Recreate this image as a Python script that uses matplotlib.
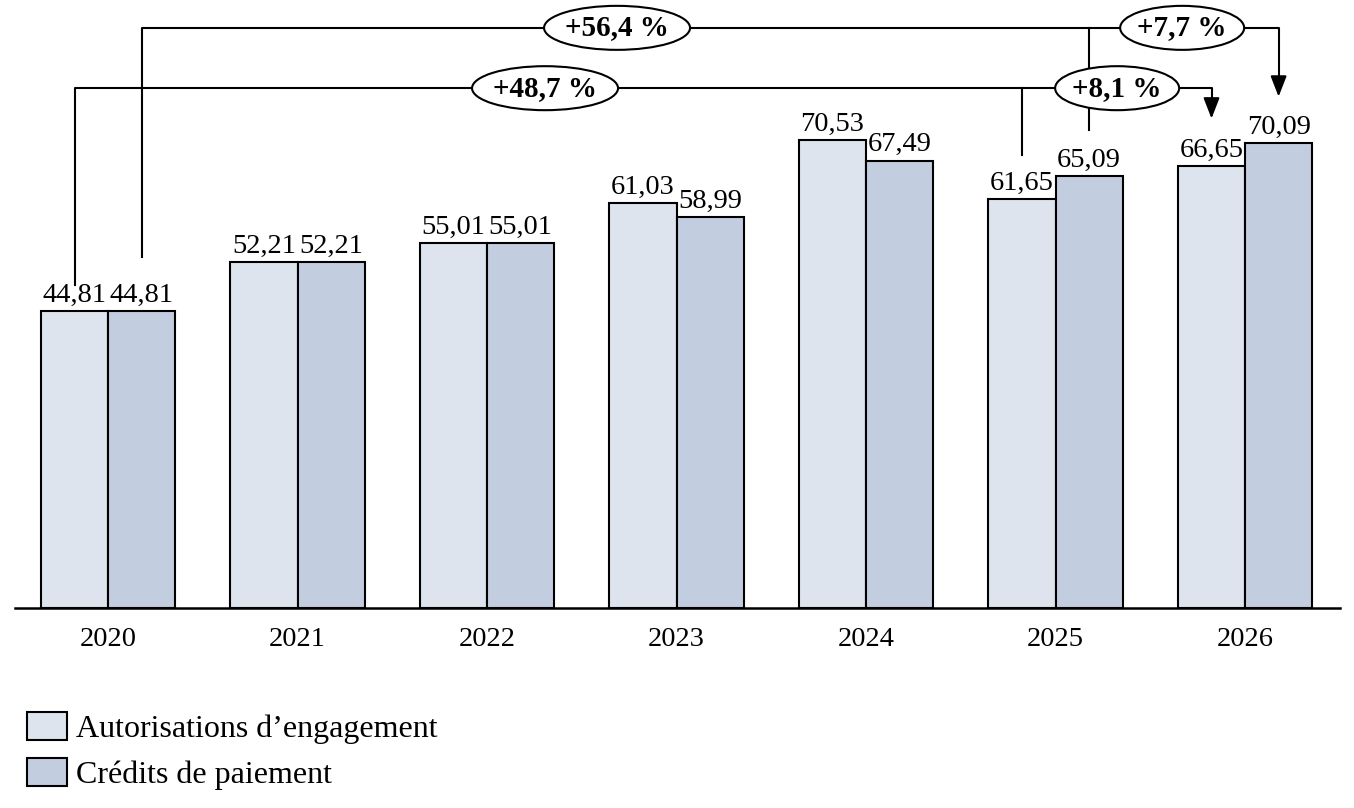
import matplotlib.pyplot as plt
import numpy as np
from matplotlib.patches import Ellipse, Patch

plt.rcParams['font.family'] = ['Liberation Serif', 'DejaVu Serif']

# Données
annees = ['2020', '2021', '2022', '2023', '2024', '2025', '2026']
ae = [44.81, 52.21, 55.01, 61.03, 70.53, 61.65, 66.65]
cp = [44.81, 52.21, 55.01, 58.99, 67.49, 65.09, 70.09]
labels_series = ['Autorisations d\u2019engagement', 'Crédits de paiement']

# Évolutions
evol_ae_2020 = '+48,7 %'
evol_cp_2020 = '+56,4 %'
evol_ae_2025 = '+8,1 %'
evol_cp_2025 = '+7,7 %'

couleur_ae = '#dde4ee'
couleur_cp = '#c3cde0'

def fmt(v):
    return f'{v:.2f}'.replace('.', ',')

fig = plt.figure(figsize=(13.54, 8.08), dpi=100)
ax = fig.add_axes([15 / 1354, 200 / 808, 1325 / 1354, 608 / 808])

x = np.arange(len(annees))
w = 0.354
ax.bar(x - w, ae, width=w, align='edge', color=couleur_ae, edgecolor='black', linewidth=1.5)
ax.bar(x, cp, width=w, align='edge', color=couleur_cp, edgecolor='black', linewidth=1.5)

for i in range(len(annees)):
    ax.text(x[i] - w / 2, ae[i] + 0.5, fmt(ae[i]), ha='center', va='bottom', fontsize=20.5)
    ax.text(x[i] + w / 2, cp[i] + 0.5, fmt(cp[i]), ha='center', va='bottom', fontsize=20.5)

ax.set_xlim(-0.491, 6.501)
ax.set_ylim(0, 91.7)
ax.set_xticks(x)
ax.set_xticklabels(annees, fontsize=20.5)
ax.tick_params(axis='x', length=0, pad=14)
ax.set_yticks([])
for s in ['top', 'left', 'right']:
    ax.spines[s].set_visible(False)
ax.spines['bottom'].set_linewidth(1.8)

# Flèches d'évolution
y_haut = 87.5
y_bas = 78.4
lw = 1.5
ae_x = x - w / 2
cp_x = x + w / 2
fleche = dict(arrowstyle='-|>,head_length=0.9,head_width=0.35', color='black', lw=lw, mutation_scale=14)

# 2020 -> 2026 AE
ax.plot([ae_x[0], ae_x[0], ae_x[6], ae_x[6]], [ae[0] + 3.9, y_bas, y_bas, 76], color='black', lw=lw)
ax.annotate('', xy=(ae_x[6], 73.4), xytext=(ae_x[6], 76.5), arrowprops=fleche)
# 2020 -> 2026 CP
ax.plot([cp_x[0], cp_x[0], cp_x[6], cp_x[6]], [cp[0] + 8.1, y_haut, y_haut, 80], color='black', lw=lw)
ax.annotate('', xy=(cp_x[6], 76.7), xytext=(cp_x[6], 80.5), arrowprops=fleche)
# 2025 -> 2026
ax.plot([ae_x[5], ae_x[5]], [ae[5] + 6.6, y_bas], color='black', lw=lw)
ax.plot([cp_x[5], cp_x[5]], [cp[5] + 7.0, y_haut], color='black', lw=lw)

# Ellipses
ell_w = 146 / 189.5
ell_w2 = 124 / 189.5
ell_h = 44 / 6.63
for cx, cy, txt, ew in [(2.686, y_haut, evol_cp_2020, ell_w), (2.306, y_bas, evol_ae_2020, ell_w),
                        (5.325, y_bas, evol_ae_2025, ell_w2), (5.668, y_haut, evol_cp_2025, ell_w2)]:
    ax.add_patch(Ellipse((cx, cy), ew, ell_h, facecolor='white', edgecolor='black', lw=lw, zorder=3, clip_on=False))
    ax.text(cx, cy, txt, ha='center', va='center', fontsize=21, fontweight='bold', zorder=4)

handles = [Patch(facecolor=couleur_ae, edgecolor='black', linewidth=1.5),
           Patch(facecolor=couleur_cp, edgecolor='black', linewidth=1.5)]
fig.legend(handles, labels_series, loc='lower left', bbox_to_anchor=(14 / 1354, 5 / 808),
           frameon=False, fontsize=23, handlelength=1.25, handleheight=0.95,
           handletextpad=0.3, labelspacing=0.45, borderaxespad=0)

plt.savefig('out.png', dpi=100)
